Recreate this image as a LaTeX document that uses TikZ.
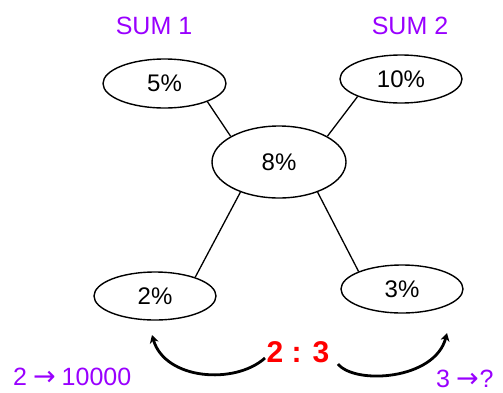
\documentclass[tikz,border=0pt]{standalone}
\usepackage{fontspec}
\setmainfont{Liberation Sans}
\newfontfamily\arrowfont{DejaVu Sans}
\usetikzlibrary{shapes.geometric,arrows.meta}
\definecolor{sumpurple}{HTML}{9900FF}
\definecolor{ratiored}{HTML}{FF0000}
\newcommand{\rarr}{{\arrowfont\fontsize{27}{29}\selectfont →}}
\begin{document}
\begin{tikzpicture}[x=1pt,y=-1pt,
  pct/.style={ellipse,draw=black,line width=1.4pt,inner sep=0pt,
    font=\fontsize{24}{28}\selectfont},
  sumlabel/.style={anchor=base,text=sumpurple,font=\fontsize{25}{29}\selectfont},
  link/.style={line width=1.3pt},
  curvearrow/.style={line width=2.8pt,-{Stealth[length=8pt,width=9pt]}},
  mapping/.style={anchor=base west,text=sumpurple,inner sep=0pt,font=\fontsize{25}{29}\selectfont}]
\useasboundingbox (0,0) rectangle (503,392);
\node[sumlabel] (s1) at (154,34) {SUM 1};
\node[sumlabel] (s2) at (410,34) {SUM 2};
\node[pct,minimum width=123pt,minimum height=49pt] (p5) at (164.5,83.5) {5\%};
\node[pct,minimum width=122pt,minimum height=48pt] (p10) at (401,79) {10\%};
\node[pct,minimum width=134pt,minimum height=72pt] (p8) at (279,162) {8\%};
\node[pct,minimum width=122pt,minimum height=48pt] (p2) at (155,296) {2\%};
\node[pct,minimum width=122pt,minimum height=48pt] (p3) at (402,289) {3\%};
\draw[link] (p5.-23) -- (p8.152);
\draw[link] (p10.202) -- (p8.28);
\draw[link] (p8.218) -- (p2.25);
\draw[link] (p8.-38) -- (p3.158);
\node[anchor=base,text=ratiored,inner sep=0pt,font=\fontsize{30}{34}\selectfont\bfseries] (r) at (298,362) {2 : 3};
\coordinate (la) at (265,358);
\coordinate (lb) at (152,335);
\coordinate (ra) at (338,364);
\coordinate (rb) at (447,333);
\draw[curvearrow] (la) .. controls (235,385) and (165,380) .. (lb);
\draw[curvearrow] (ra) .. controls (355,385) and (435,380) .. (rb);
\node[mapping] (m1) at (13,385) {2\hspace{6pt}\rarr\hspace{6pt}10000};
\node[mapping] (m2) at (436,387) {3\hspace{6pt}\rarr\hspace{1pt}?};
\end{tikzpicture}
\end{document}
